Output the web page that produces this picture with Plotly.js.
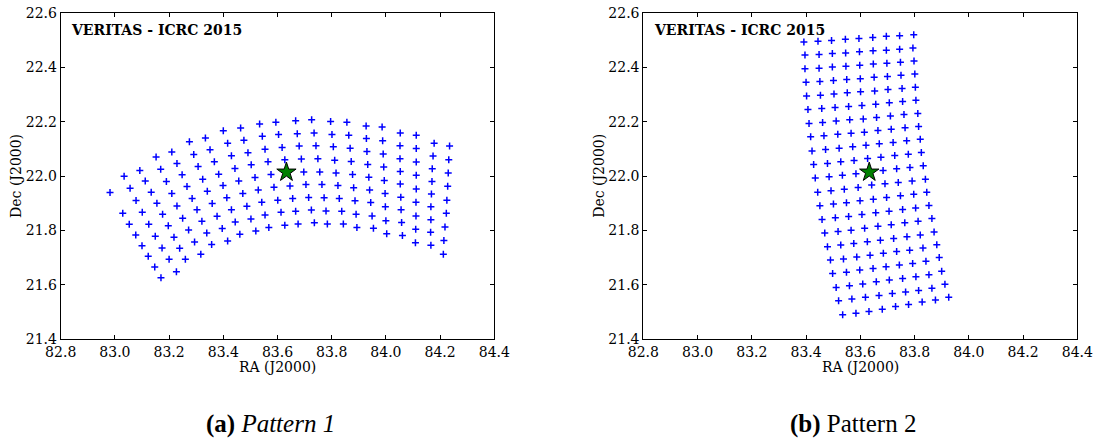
<!DOCTYPE html>
<html>
<head>
<meta charset="utf-8">
<script src="https://cdn.plot.ly/plotly-3.0.1.min.js"></script>
<style>html,body{margin:0;padding:0;background:#fff;}#chart{width:1096px;height:439px;}</style>
</head>
<body>
<div id="chart"></div>
<script>
// Pattern 1: pointing positions (RA, Dec in degrees), listed column by column
const ra1 = [
  82.982, 83.029, 83.053, 83.077, 83.100, 83.123, 83.147, 83.170,
  83.034, 83.056, 83.078, 83.101, 83.125, 83.149, 83.174, 83.200, 83.227,
  83.092, 83.112, 83.134, 83.155, 83.176, 83.197, 83.218, 83.239, 83.260,
  83.152, 83.169, 83.190, 83.210, 83.229, 83.250, 83.272, 83.294, 83.317,
  83.210, 83.229, 83.248, 83.266, 83.285, 83.303, 83.321, 83.339, 83.357,
  83.275, 83.291, 83.307, 83.324, 83.341, 83.359, 83.377, 83.396, 83.416,
  83.334, 83.351, 83.367, 83.383, 83.399, 83.413, 83.430, 83.444, 83.461,
  83.400, 83.416, 83.430, 83.443, 83.457, 83.472, 83.487, 83.502, 83.520,
  83.464, 83.476, 83.491, 83.503, 83.517, 83.529, 83.542, 83.554, 83.568,
  83.534, 83.544, 83.554, 83.565, 83.576, 83.587, 83.601, 83.613, 83.627,
  83.594, 83.604, 83.617, 83.627, 83.636, 83.646, 83.656, 83.667, 83.676,
  83.667, 83.673, 83.680, 83.688, 83.697, 83.705, 83.715, 83.725, 83.736,
  83.726, 83.735, 83.742, 83.749, 83.756, 83.764, 83.772, 83.779, 83.784,
  83.796, 83.801, 83.806, 83.811, 83.816, 83.823, 83.828, 83.837, 83.843,
  83.856, 83.863, 83.868, 83.872, 83.877, 83.881, 83.886, 83.890, 83.893,
  83.927, 83.928, 83.930, 83.933, 83.937, 83.940, 83.944, 83.949, 83.954,
  83.986, 83.988, 83.990, 83.992, 83.994, 83.997, 83.998, 84.000, 84.003,
  84.053, 84.052, 84.052, 84.053, 84.053, 84.055, 84.056, 84.058, 84.061,
  84.112, 84.112, 84.112, 84.112, 84.112, 84.111, 84.111, 84.110, 84.109,
  84.178, 84.174, 84.171, 84.170, 84.168, 84.166, 84.166, 84.165, 84.166,
  84.235, 84.232, 84.230, 84.228, 84.225, 84.223, 84.218, 84.214, 84.212
];
const dec1 = [
  21.940, 21.863, 21.823, 21.783, 21.744, 21.705, 21.665, 21.626,
  22.000, 21.955, 21.910, 21.867, 21.823, 21.779, 21.735, 21.694, 21.648,
  22.021, 21.982, 21.941, 21.900, 21.860, 21.817, 21.775, 21.734, 21.694,
  22.071, 22.025, 21.980, 21.936, 21.890, 21.845, 21.802, 21.757, 21.712,
  22.089, 22.047, 22.005, 21.962, 21.918, 21.876, 21.834, 21.791, 21.748,
  22.127, 22.080, 22.036, 21.989, 21.944, 21.899, 21.852, 21.807, 21.761,
  22.141, 22.097, 22.053, 22.007, 21.966, 21.920, 21.876, 21.831, 21.786,
  22.167, 22.121, 22.075, 22.028, 21.982, 21.936, 21.889, 21.842, 21.798,
  22.177, 22.132, 22.086, 22.042, 21.995, 21.949, 21.904, 21.857, 21.811,
  22.192, 22.147, 22.099, 22.053, 22.006, 21.959, 21.911, 21.867, 21.819,
  22.199, 22.153, 22.106, 22.060, 22.013, 21.964, 21.918, 21.871, 21.824,
  22.204, 22.156, 22.111, 22.063, 22.015, 21.969, 21.921, 21.875, 21.828,
  22.208, 22.159, 22.112, 22.064, 22.015, 21.969, 21.920, 21.872, 21.824,
  22.201, 22.153, 22.108, 22.059, 22.012, 21.966, 21.918, 21.871, 21.824,
  22.199, 22.151, 22.103, 22.054, 22.006, 21.957, 21.909, 21.860, 21.811,
  22.185, 22.139, 22.091, 22.043, 21.996, 21.949, 21.903, 21.853, 21.808,
  22.181, 22.130, 22.082, 22.034, 21.984, 21.936, 21.887, 21.836, 21.788,
  22.159, 22.112, 22.064, 22.017, 21.971, 21.922, 21.876, 21.829, 21.781,
  22.151, 22.102, 22.052, 22.003, 21.953, 21.904, 21.853, 21.804, 21.755,
  22.121, 22.074, 22.027, 21.980, 21.934, 21.887, 21.839, 21.793, 21.745,
  22.111, 22.060, 22.012, 21.963, 21.911, 21.863, 21.813, 21.763, 21.712
];

// Pattern 2: pointing positions, listed row by row (top to bottom)
const ra2 = [
  83.392, 83.444, 83.494, 83.545, 83.595, 83.646, 83.696, 83.745, 83.797,
  83.396, 83.448, 83.497, 83.546, 83.597, 83.647, 83.696, 83.745, 83.794,
  83.396, 83.448, 83.497, 83.547, 83.598, 83.648, 83.698, 83.748, 83.798,
  83.400, 83.451, 83.501, 83.550, 83.600, 83.651, 83.700, 83.750, 83.801,
  83.402, 83.453, 83.503, 83.552, 83.601, 83.653, 83.702, 83.754, 83.803,
  83.407, 83.458, 83.507, 83.557, 83.606, 83.657, 83.707, 83.756, 83.805,
  83.411, 83.461, 83.511, 83.561, 83.611, 83.660, 83.711, 83.761, 83.812,
  83.417, 83.466, 83.517, 83.566, 83.615, 83.665, 83.714, 83.765, 83.815,
  83.422, 83.472, 83.522, 83.572, 83.621, 83.670, 83.721, 83.771, 83.821,
  83.428, 83.479, 83.528, 83.577, 83.627, 83.676, 83.727, 83.777, 83.825,
  83.434, 83.485, 83.534, 83.584, 83.633, 83.684, 83.734, 83.783, 83.832,
  83.443, 83.492, 83.541, 83.592, 83.642, 83.691, 83.740, 83.791, 83.840,
  83.451, 83.501, 83.549, 83.599, 83.648, 83.697, 83.748, 83.797, 83.845,
  83.459, 83.508, 83.557, 83.606, 83.657, 83.706, 83.756, 83.804, 83.853,
  83.469, 83.518, 83.566, 83.616, 83.665, 83.714, 83.764, 83.813, 83.864,
  83.479, 83.528, 83.576, 83.626, 83.674, 83.723, 83.772, 83.821, 83.872,
  83.490, 83.538, 83.587, 83.636, 83.685, 83.734, 83.782, 83.831, 83.882,
  83.498, 83.549, 83.598, 83.647, 83.695, 83.744, 83.793, 83.842, 83.891,
  83.511, 83.560, 83.609, 83.659, 83.707, 83.756, 83.805, 83.853, 83.900,
  83.520, 83.569, 83.619, 83.669, 83.718, 83.767, 83.815, 83.864, 83.912,
  83.535, 83.584, 83.632, 83.681, 83.730, 83.778, 83.828, 83.877, 83.926
];
const dec2 = [
  22.494, 22.497, 22.500, 22.504, 22.507, 22.511, 22.515, 22.517, 22.521,
  22.446, 22.448, 22.452, 22.454, 22.458, 22.462, 22.464, 22.468, 22.472,
  22.396, 22.398, 22.402, 22.405, 22.409, 22.413, 22.416, 22.420, 22.424,
  22.346, 22.349, 22.352, 22.356, 22.359, 22.364, 22.367, 22.372, 22.376,
  22.295, 22.298, 22.303, 22.307, 22.311, 22.314, 22.319, 22.323, 22.328,
  22.246, 22.249, 22.253, 22.257, 22.260, 22.265, 22.270, 22.275, 22.280,
  22.194, 22.198, 22.203, 22.208, 22.211, 22.216, 22.222, 22.227, 22.231,
  22.145, 22.149, 22.154, 22.158, 22.162, 22.168, 22.173, 22.178, 22.183,
  22.093, 22.098, 22.103, 22.108, 22.114, 22.119, 22.124, 22.130, 22.136,
  22.043, 22.047, 22.053, 22.058, 22.065, 22.070, 22.076, 22.081, 22.087,
  21.993, 21.998, 22.003, 22.009, 22.015, 22.021, 22.027, 22.032, 22.038,
  21.941, 21.946, 21.952, 21.958, 21.967, 21.972, 21.977, 21.982, 21.989,
  21.891, 21.897, 21.902, 21.909, 21.915, 21.921, 21.928, 21.933, 21.941,
  21.840, 21.847, 21.851, 21.859, 21.865, 21.871, 21.877, 21.883, 21.892,
  21.791, 21.796, 21.801, 21.808, 21.815, 21.821, 21.828, 21.834, 21.844,
  21.740, 21.746, 21.752, 21.758, 21.764, 21.770, 21.777, 21.783, 21.794,
  21.691, 21.695, 21.702, 21.709, 21.716, 21.722, 21.727, 21.735, 21.747,
  21.641, 21.646, 21.654, 21.660, 21.666, 21.673, 21.678, 21.686, 21.700,
  21.590, 21.596, 21.603, 21.611, 21.617, 21.623, 21.629, 21.637, 21.650,
  21.541, 21.547, 21.554, 21.560, 21.568, 21.573, 21.579, 21.587, 21.602,
  21.489, 21.495, 21.501, 21.510, 21.520, 21.527, 21.536, 21.544, 21.554
];

// Crab Nebula position (star marker)
const crabRA = [83.633];
const crabDec = [22.0145];

// Axis ticks and texts
const xTicks = [82.8, 83.0, 83.2, 83.4, 83.6, 83.8, 84.0, 84.2, 84.4];
const yTicks = [21.4, 21.6, 21.8, 22.0, 22.2, 22.4, 22.6];
const xTitle = 'RA (J2000)';
const yTitle = 'Dec (J2000)';
const tag = 'VERITAS - ICRC 2015';
const captionLetters = ['(a)', '(b)'];
const captionNames = ['Pattern 1', 'Pattern 2'];

const W = 1096, H = 439;
const serif = '"DejaVu Serif", serif';
const times = '"Liberation Serif", "Times New Roman", Times, serif';
const yDom = [1 - 339 / H, 1 - 13.3 / H];
const xDom1 = [60.7 / W, 494.3 / W];
const xDom2 = [643.3 / W, 1077.3 / W];

function xAxis(domain, anchor) {
  return {
    domain: domain, anchor: anchor, range: [xTicks[0], xTicks[xTicks.length - 1]],
    tickmode: 'array', tickvals: xTicks, ticktext: xTicks.map(v => v.toFixed(1)),
    ticks: 'inside', ticklen: 4, tickwidth: 1, tickcolor: '#000',
    showline: true, linecolor: '#000', linewidth: 1, mirror: 'ticks',
    showgrid: false, zeroline: false, fixedrange: true,
    tickfont: { family: serif, size: 14, color: '#000' }
  };
}
function yAxis(anchor) {
  return {
    domain: yDom, anchor: anchor, range: [yTicks[0], yTicks[yTicks.length - 1]],
    tickmode: 'array', tickvals: yTicks, ticktext: yTicks.map(v => v.toFixed(1)),
    ticks: 'inside', ticklen: 4, tickwidth: 1, tickcolor: '#000',
    showline: true, linecolor: '#000', linewidth: 1, mirror: 'ticks',
    showgrid: false, zeroline: false, fixedrange: true,
    tickfont: { family: serif, size: 14, color: '#000' }
  };
}

const crossMarker = { symbol: 'cross-thin-open', size: 5, color: '#0000ff', line: { color: '#0000ff', width: 1.5 } };
const starMarker = { symbol: 'star', size: 14.5, color: '#008000', line: { color: '#000', width: 1 } };

const data = [
  { type: 'scatter', mode: 'markers', x: ra1, y: dec1, xaxis: 'x', yaxis: 'y', marker: crossMarker, hoverinfo: 'skip' },
  { type: 'scatter', mode: 'markers', x: crabRA, y: crabDec, xaxis: 'x', yaxis: 'y', marker: starMarker, hoverinfo: 'skip' },
  { type: 'scatter', mode: 'markers', x: ra2, y: dec2, xaxis: 'x2', yaxis: 'y2', marker: crossMarker, hoverinfo: 'skip' },
  { type: 'scatter', mode: 'markers', x: crabRA, y: crabDec, xaxis: 'x2', yaxis: 'y2', marker: starMarker, hoverinfo: 'skip' }
];

const labelFont = { family: serif, size: 14, color: '#000' };
function axisTitles(dom, decX) {
  return [
    { xref: 'paper', yref: 'paper', x: (dom[0] + dom[1]) / 2, y: 1 - 366.7 / H, xanchor: 'center', yanchor: 'middle',
      showarrow: false, text: xTitle, font: labelFont },
    { xref: 'paper', yref: 'paper', x: decX / W, y: 1 - 175.5 / H, xanchor: 'center', yanchor: 'middle',
      showarrow: false, textangle: -90, text: yTitle, font: labelFont }
  ];
}

const layout = {
  width: W, height: H,
  margin: { l: 0, r: 0, t: 0, b: 0 },
  paper_bgcolor: '#fff', plot_bgcolor: '#fff',
  showlegend: false,
  xaxis: xAxis(xDom1, 'y'),
  yaxis: yAxis('x'),
  xaxis2: xAxis(xDom2, 'y2'),
  yaxis2: yAxis('x2'),
  annotations: [
    ...axisTitles(xDom1, 15.4),
    ...axisTitles(xDom2, 598.3),
    { xref: 'x domain', yref: 'y domain', x: 0.018, y: 0.95, xanchor: 'left', yanchor: 'middle', showarrow: false,
      text: '<b>' + tag + '</b>', font: labelFont },
    { xref: 'x2 domain', yref: 'y2 domain', x: 0.020, y: 0.95, xanchor: 'left', yanchor: 'middle', showarrow: false,
      text: '<b>' + tag + '</b>', font: labelFont },
    { xref: 'paper', yref: 'paper', x: 270 / W, y: 1 - 424 / H, xanchor: 'center', yanchor: 'middle', showarrow: false,
      text: '<b>' + captionLetters[0] + '</b> <i>' + captionNames[0] + '</i>',
      font: { family: times, size: 25, color: '#000' } },
    { xref: 'paper', yref: 'paper', x: 852.7 / W, y: 1 - 424 / H, xanchor: 'center', yanchor: 'middle', showarrow: false,
      text: '<b>' + captionLetters[1] + '</b> ' + captionNames[1],
      font: { family: times, size: 25, color: '#000' } }
  ]
};

Plotly.newPlot('chart', data, layout, { displayModeBar: false, staticPlot: true });
</script>
</body>
</html>
